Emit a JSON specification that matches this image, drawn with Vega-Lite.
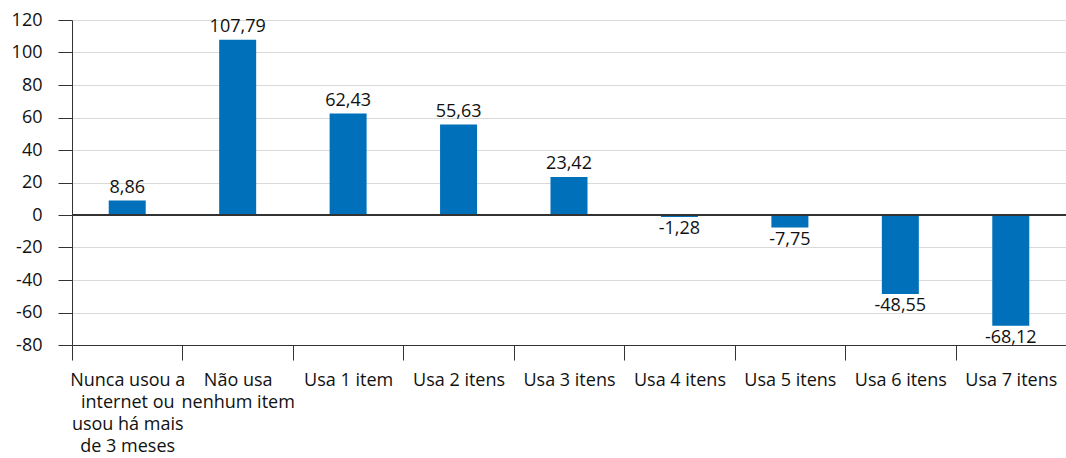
{
  "$schema": "https://vega.github.io/schema/vega-lite/v6.json",
  "autosize": "none",
  "width": 994,
  "height": 325,
  "padding": {"left": 72, "top": 20, "right": 0, "bottom": 113},
  "background": "white",
  "config": {
    "locale": {"number": {"decimal": ",", "thousands": ".", "grouping": [3], "currency": ["R$", ""], "minus": "-"}},
    "font": "Open Sans",
    "view": {"stroke": null}
  },
  "data": {
    "values": [
      {"categoria": "Nunca usou a internet ou usou há mais de 3 meses", "valor": 8.86},
      {"categoria": "Não usa nenhum item", "valor": 107.79},
      {"categoria": "Usa 1 item", "valor": 62.43},
      {"categoria": "Usa 2 itens", "valor": 55.63},
      {"categoria": "Usa 3 itens", "valor": 23.42},
      {"categoria": "Usa 4 itens", "valor": -1.28},
      {"categoria": "Usa 5 itens", "valor": -7.75},
      {"categoria": "Usa 6 itens", "valor": -48.55},
      {"categoria": "Usa 7 itens", "valor": -68.12}
    ]
  },
  "encoding": {
    "x": {
      "field": "categoria",
      "type": "nominal",
      "sort": null,
      "title": null,
      "scale": {"paddingInner": 0, "paddingOuter": 0},
      "axis": {
        "labelAngle": 0,
        "tickBand": "extent",
        "tickSize": 15,
        "tickColor": "#333333",
        "domainColor": "#333333",
        "labelFontSize": 18,
        "labelColor": "#111111",
        "labelPadding": 11,
        "labelLineHeight": 22,
        "labelBaseline": "top",
        "labelLimit": 200,
        "labelExpr": "datum.value == 'Nunca usou a internet ou usou há mais de 3 meses' ? ['Nunca usou a', 'internet ou', 'usou há mais', 'de 3 meses'] : datum.value == 'Não usa nenhum item' ? ['Não usa', 'nenhum item'] : datum.label"
      }
    },
    "y": {
      "field": "valor",
      "type": "quantitative",
      "title": null,
      "scale": {"domain": [-80, 120], "nice": false, "zero": false},
      "axis": {
        "values": [-80, -60, -40, -20, 0, 20, 40, 60, 80, 100, 120],
        "tickSize": 14,
        "tickColor": "#333333",
        "domainColor": "#333333",
        "gridColor": "#d9d9d9",
        "labelFontSize": 18,
        "labelColor": "#111111",
        "labelPadding": 16
      }
    }
  },
  "layer": [
    {
      "mark": {"type": "bar", "color": "#0070BA", "width": {"band": 0.335}}
    },
    {
      "transform": [{"filter": "datum.valor >= 0"}],
      "mark": {"type": "text", "baseline": "bottom", "dy": -4, "fontSize": 18, "color": "#111111"},
      "encoding": {"text": {"field": "valor", "type": "quantitative", "format": ".2f"}}
    },
    {
      "transform": [{"filter": "datum.valor < 0"}],
      "mark": {"type": "text", "baseline": "top", "dy": 3, "fontSize": 18, "color": "#111111"},
      "encoding": {"text": {"field": "valor", "type": "quantitative", "format": ".2f"}}
    },
    {
      "mark": {"type": "rule", "color": "#333333", "strokeWidth": 1.5},
      "encoding": {"y": {"datum": 0}, "x": {"value": 0}, "x2": {"value": 994}}
    }
  ]
}
